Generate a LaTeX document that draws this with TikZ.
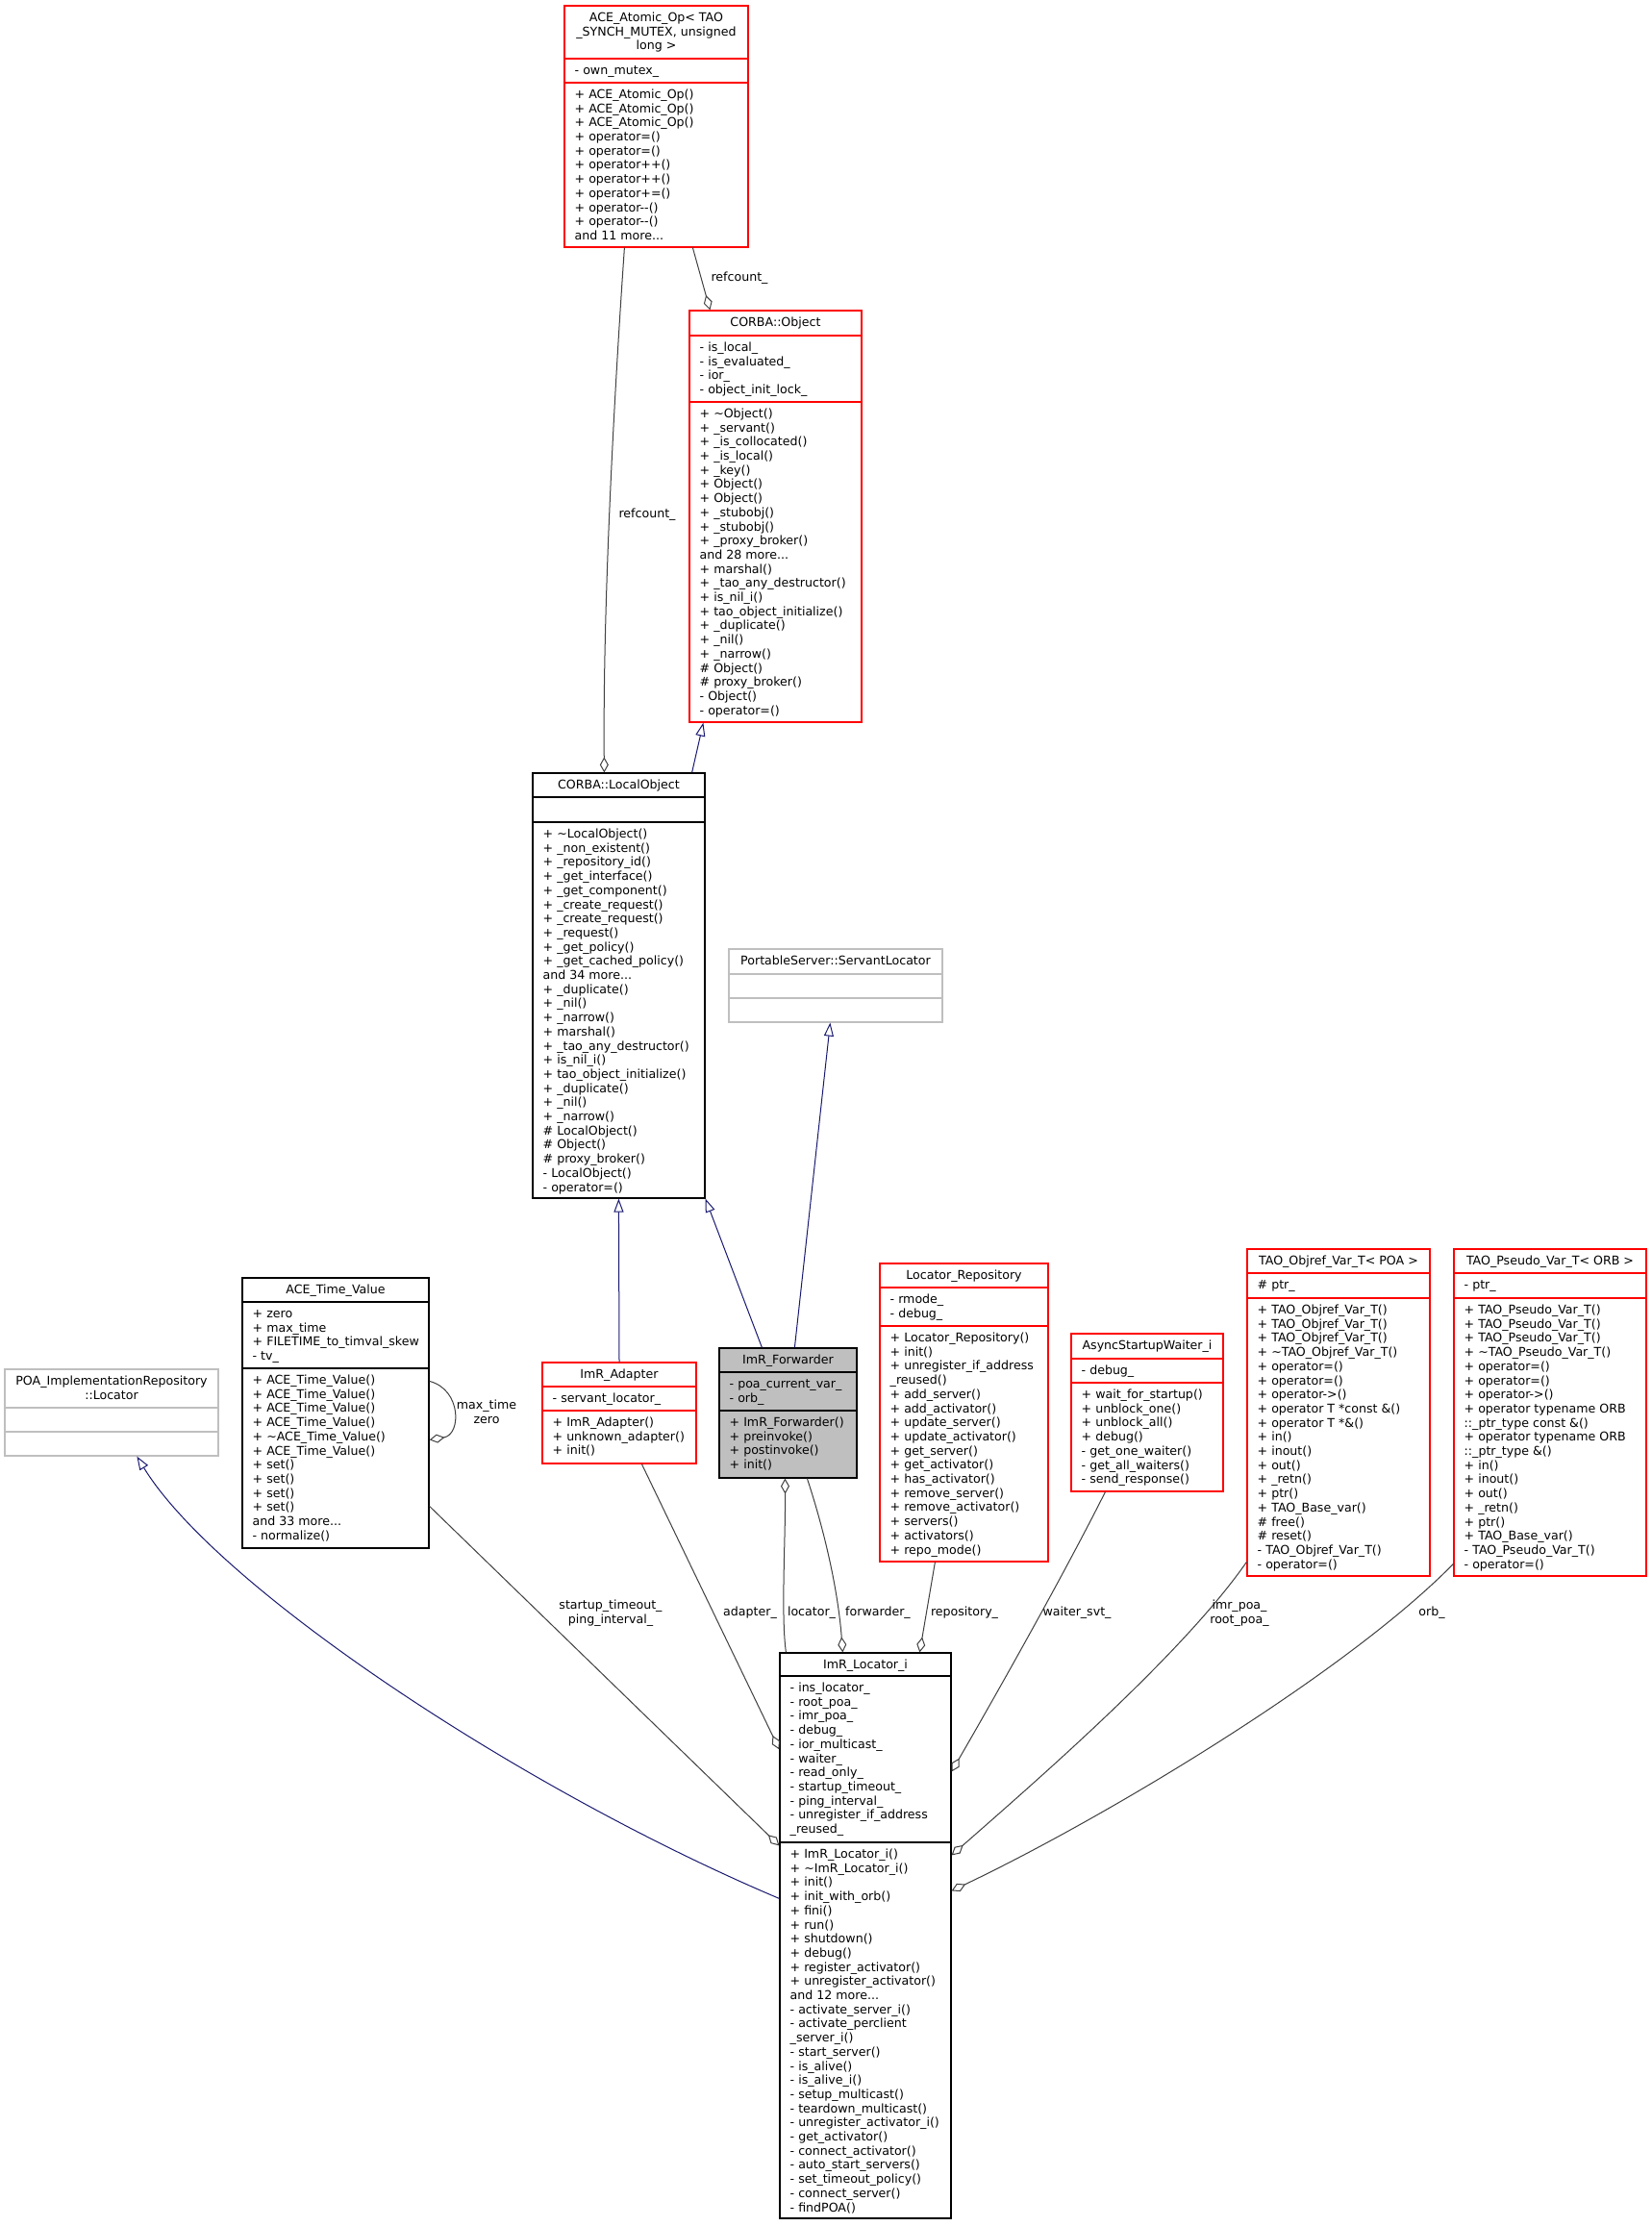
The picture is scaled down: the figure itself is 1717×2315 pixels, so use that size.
\documentclass[tikz,border=0pt]{standalone}
\usepackage{fontspec}
\setmainfont{DejaVu Sans}
\usetikzlibrary{arrows.meta,fit}
\definecolor{inhblue}{HTML}{191970}
\definecolor{usegray}{HTML}{404040}
\definecolor{boxgray}{HTML}{BFBFBF}
\definecolor{boxred}{HTML}{FF0000}
\newcommand{\umlfont}{\fontsize{12.6pt}{14.7pt}\selectfont}
\newcommand{\tld}{\textasciitilde}
% name, style, L, T, R, B, s1, s2
\newcommand{\umlbox}[8]{%
  \node[#2, fit={(#3,#4) (#5,#6)}, inner sep=0pt] (#1) {};
  \draw[#2sep] (#3,#7) -- (#5,#7);
  \draw[#2sep] (#3,#8) -- (#5,#8);
}
% L, R, T, text
\newcommand{\umltitle}[4]{%
  \node[umltxt, anchor=north, align=center] at ({(#1+#2)/2}, #3+6) {\strut #4};
}
% L, y, text
\newcommand{\umlrows}[3]{%
  \node[umltxt, anchor=north west, align=left] at (#1+10.5, #2+6) {\strut #3};
}
\tikzset{
  umltxt/.style={font=\umlfont, inner sep=0pt, text=black},
  lbl/.style={font=\umlfont, inner sep=0pt, align=center, text=black},
  redbox/.style={draw=boxred, fill=white, line width=1.2pt},
  redboxsep/.style={draw=boxred, line width=1.2pt},
  blackbox/.style={draw=black, fill=white, line width=1.2pt},
  blackboxsep/.style={draw=black, line width=1.2pt},
  graybox/.style={draw=boxgray, fill=white, line width=1.2pt},
  grayboxsep/.style={draw=boxgray, line width=1.2pt},
  fwdbox/.style={draw=black, fill=boxgray, line width=1.2pt},
  fwdboxsep/.style={draw=black, line width=1.2pt},
  inh/.style={draw=inhblue, line width=1pt, -{Triangle[open, length=14pt, width=10pt]}},
  agg/.style={draw=usegray, line width=1pt, -{Diamond[open, length=16pt, width=9pt]}},
}
\begin{document}
\begin{tikzpicture}[x=1pt, y=-1pt]
\useasboundingbox (0,0) rectangle (1717,2315);
\fill[white] (0,0) rectangle (1717,2315);

% ACE_Atomic_Op
\umlbox{atomic}{redbox}{587}{6}{778}{257}{61}{86}
\umltitle{587}{778}{6}{ACE\_Atomic\_Op< TAO\\\_SYNCH\_MUTEX, unsigned\\long >}
\umlrows{587}{61}{- own\_mutex\_}
\umlrows{587}{86}{+ ACE\_Atomic\_Op()\\+ ACE\_Atomic\_Op()\\+ ACE\_Atomic\_Op()\\+ operator=()\\+ operator=()\\+ operator++()\\+ operator++()\\+ operator+=()\\+ operator-{}-()\\+ operator-{}-()\\and 11 more...}

% CORBA::Object
\umlbox{object}{redbox}{717}{323}{896}{751}{349}{418}
\umltitle{717}{896}{323}{CORBA::Object}
\umlrows{717}{349}{- is\_local\_\\- is\_evaluated\_\\- ior\_\\- object\_init\_lock\_}
\umlrows{717}{418}{+ \tld Object()\\+ \_servant()\\+ \_is\_collocated()\\+ \_is\_local()\\+ \_key()\\+ Object()\\+ Object()\\+ \_stubobj()\\+ \_stubobj()\\+ \_proxy\_broker()\\and 28 more...\\+ marshal()\\+ \_tao\_any\_destructor()\\+ is\_nil\_i()\\+ tao\_object\_initialize()\\+ \_duplicate()\\+ \_nil()\\+ \_narrow()\\\# Object()\\\# proxy\_broker()\\- Object()\\- operator=()}

% CORBA::LocalObject
\umlbox{localobj}{blackbox}{554}{804}{733}{1246}{829}{855}
\umltitle{554}{733}{804}{CORBA::LocalObject}
\umlrows{554}{855}{+ \tld LocalObject()\\+ \_non\_existent()\\+ \_repository\_id()\\+ \_get\_interface()\\+ \_get\_component()\\+ \_create\_request()\\+ \_create\_request()\\+ \_request()\\+ \_get\_policy()\\+ \_get\_cached\_policy()\\and 34 more...\\+ \_duplicate()\\+ \_nil()\\+ \_narrow()\\+ marshal()\\+ \_tao\_any\_destructor()\\+ is\_nil\_i()\\+ tao\_object\_initialize()\\+ \_duplicate()\\+ \_nil()\\+ \_narrow()\\\# LocalObject()\\\# Object()\\\# proxy\_broker()\\- LocalObject()\\- operator=()}

% PortableServer::ServantLocator
\umlbox{servloc}{graybox}{758}{987}{980}{1063}{1013}{1038}
\umltitle{758}{980}{987}{PortableServer::ServantLocator}

% ImR_Forwarder
\umlbox{forwarder}{fwdbox}{748}{1402}{891}{1537}{1427}{1467}
\umltitle{748}{891}{1402}{ImR\_Forwarder}
\umlrows{748}{1427}{- poa\_current\_var\_\\- orb\_}
\umlrows{748}{1467}{+ ImR\_Forwarder()\\+ preinvoke()\\+ postinvoke()\\+ init()}

% ImR_Adapter
\umlbox{adapter}{redbox}{564}{1417}{724}{1522}{1442}{1467}
\umltitle{564}{724}{1417}{ImR\_Adapter}
\umlrows{564}{1442}{- servant\_locator\_}
\umlrows{564}{1467}{+ ImR\_Adapter()\\+ unknown\_adapter()\\+ init()}

% ACE_Time_Value
\umlbox{timeval}{blackbox}{252}{1329}{446}{1610}{1354}{1423}
\umltitle{252}{446}{1329}{ACE\_Time\_Value}
\umlrows{252}{1354}{+ zero\\+ max\_time\\+ FILETIME\_to\_timval\_skew\\- tv\_}
\umlrows{252}{1423}{+ ACE\_Time\_Value()\\+ ACE\_Time\_Value()\\+ ACE\_Time\_Value()\\+ ACE\_Time\_Value()\\+ \tld ACE\_Time\_Value()\\+ ACE\_Time\_Value()\\+ set()\\+ set()\\+ set()\\+ set()\\and 33 more...\\- normalize()}

% POA_ImplementationRepository::Locator
\umlbox{poaloc}{graybox}{5}{1424}{227}{1514}{1464}{1489}
\umltitle{5}{227}{1424}{POA\_ImplementationRepository\\::Locator}

% Locator_Repository
\umlbox{locrepo}{redbox}{915}{1314}{1090}{1624}{1339}{1379}
\umltitle{915}{1090}{1314}{Locator\_Repository}
\umlrows{915}{1339}{- rmode\_\\- debug\_}
\umlrows{915}{1379}{+ Locator\_Repository()\\+ init()\\+ unregister\_if\_address\\\_reused()\\+ add\_server()\\+ add\_activator()\\+ update\_server()\\+ update\_activator()\\+ get\_server()\\+ get\_activator()\\+ has\_activator()\\+ remove\_server()\\+ remove\_activator()\\+ servers()\\+ activators()\\+ repo\_mode()}

% AsyncStartupWaiter_i
\umlbox{waiter}{redbox}{1114}{1387}{1272}{1551}{1413}{1438}
\umltitle{1114}{1272}{1387}{AsyncStartupWaiter\_i}
\umlrows{1114}{1413}{- debug\_}
\umlrows{1114}{1438}{+ wait\_for\_startup()\\+ unblock\_one()\\+ unblock\_all()\\+ debug()\\- get\_one\_waiter()\\- get\_all\_waiters()\\- send\_response()}

% TAO_Objref_Var_T< POA >
\umlbox{objref}{redbox}{1297}{1299}{1487}{1639}{1324}{1350}
\umltitle{1297}{1487}{1299}{TAO\_Objref\_Var\_T< POA >}
\umlrows{1297}{1324}{\# ptr\_}
\umlrows{1297}{1350}{+ TAO\_Objref\_Var\_T()\\+ TAO\_Objref\_Var\_T()\\+ TAO\_Objref\_Var\_T()\\+ \tld TAO\_Objref\_Var\_T()\\+ operator=()\\+ operator=()\\+ operator->()\\+ operator T *const \&()\\+ operator T *\&()\\+ in()\\+ inout()\\+ out()\\+ \_retn()\\+ ptr()\\+ TAO\_Base\_var()\\\# free()\\\# reset()\\- TAO\_Objref\_Var\_T()\\- operator=()}

% TAO_Pseudo_Var_T< ORB >
\umlbox{pseudo}{redbox}{1512}{1299}{1712}{1639}{1324}{1350}
\umltitle{1512}{1712}{1299}{TAO\_Pseudo\_Var\_T< ORB >}
\umlrows{1512}{1324}{- ptr\_}
\umlrows{1512}{1350}{+ TAO\_Pseudo\_Var\_T()\\+ TAO\_Pseudo\_Var\_T()\\+ TAO\_Pseudo\_Var\_T()\\+ \tld TAO\_Pseudo\_Var\_T()\\+ operator=()\\+ operator=()\\+ operator->()\\+ operator typename ORB\\::\_ptr\_type const \&()\\+ operator typename ORB\\::\_ptr\_type \&()\\+ in()\\+ inout()\\+ out()\\+ \_retn()\\+ ptr()\\+ TAO\_Base\_var()\\- TAO\_Pseudo\_Var\_T()\\- operator=()}

% ImR_Locator_i
\umlbox{locator}{blackbox}{811}{1719}{989}{2307}{1743}{1916}
\umltitle{811}{989}{1719}{ImR\_Locator\_i}
\umlrows{811}{1743}{- ins\_locator\_\\- root\_poa\_\\- imr\_poa\_\\- debug\_\\- ior\_multicast\_\\- waiter\_\\- read\_only\_\\- startup\_timeout\_\\- ping\_interval\_\\- unregister\_if\_address\\\_reused\_}
\umlrows{811}{1916}{+ ImR\_Locator\_i()\\+ \tld ImR\_Locator\_i()\\+ init()\\+ init\_with\_orb()\\+ fini()\\+ run()\\+ shutdown()\\+ debug()\\+ register\_activator()\\+ unregister\_activator()\\and 12 more...\\- activate\_server\_i()\\- activate\_perclient\\\_server\_i()\\- start\_server()\\- is\_alive()\\- is\_alive\_i()\\- setup\_multicast()\\- teardown\_multicast()\\- unregister\_activator\_i()\\- get\_activator()\\- connect\_activator()\\- auto\_start\_servers()\\- set\_timeout\_policy()\\- connect\_server()\\- findPOA()}

% ---------- connectors ----------
% refcount_ (Atomic -> LocalObject)
\draw[agg] ([xshift=63pt]atomic.south west) .. controls (636,450) and (627,650) .. ([xshift=75pt]localobj.north west);
\node[lbl] (lref1) at (673,535) {refcount\_};
% refcount_ (Atomic -> Object)
\draw[agg] ([xshift=134pt]atomic.south west) -- ([xshift=22pt]object.north west);
\node[lbl] (lref2) at (769,289) {refcount\_};
% inheritance LocalObject -> Object
\draw[inh] ([xshift=-14pt]localobj.north east) -- ([xshift=15pt]object.south west);
% inheritance ImR_Adapter -> LocalObject
\draw[inh] (adapter.north) -- ([xshift=90pt]localobj.south west);
% inheritance ImR_Forwarder -> LocalObject
\draw[inh] ([xshift=45pt]forwarder.north west) -- (localobj.south east);
% inheritance ImR_Forwarder -> ServantLocator
\draw[inh] ([xshift=79pt]forwarder.north west) -- ([xshift=106pt]servloc.south west);
% inheritance ImR_Locator_i -> POA Locator
\draw[inh] ([yshift=-256pt]locator.north west) .. controls (540,1860) and (225,1650) .. ([xshift=138pt]poaloc.south west);
% ACE_Time_Value self loop
\draw[agg] ([yshift=-108pt]timeval.north east) .. controls (480,1445) and (480,1492) .. ([yshift=-169pt]timeval.north east);
\node[lbl] (lmax) at (506,1468) {max\_time\\zero};
% startup_timeout_ / ping_interval_
\draw[agg] ([yshift=-238pt]timeval.north east) -- ([yshift=-201pt]locator.north west);
\node[lbl] (lstart) at (635,1678) {startup\_timeout\_\\ping\_interval\_};
% adapter_
\draw[agg] ([xshift=104pt]adapter.south west) -- ([yshift=-101pt]locator.north west);
\node[lbl] (ladapter) at (780,1677) {adapter\_};
% locator_
\draw[agg] ([xshift=7pt]locator.north west) .. controls (812,1680) and (817,1600) .. ([xshift=69pt]forwarder.south west);
\node[lbl] (llocator) at (844,1677) {locator\_};
% forwarder_
\draw[agg] ([xshift=92pt]forwarder.south west) .. controls (860,1600) and (872,1660) .. ([xshift=66pt]locator.north west);
\node[lbl] (lforwarder) at (913,1677) {forwarder\_};
% repository_
\draw[agg] ([xshift=58pt]locrepo.south west) -- ([xshift=146pt]locator.north west);
\node[lbl] (lrepo) at (1003,1677) {repository\_};
% waiter_svt_
\draw[agg] ([xshift=36pt]waiter.south west) .. controls (1100,1650) and (1020,1790) .. ([yshift=-124pt]locator.north east);
\node[lbl] (lwaiter) at (1120,1677) {waiter\_svt\_};
% imr_poa_ / root_poa_
\draw[agg] ([yshift=-326pt]objref.north west) .. controls (1230,1720) and (1080,1850) .. ([yshift=-211pt]locator.north east);
\node[lbl] (lpoa) at (1289,1678) {imr\_poa\_\\root\_poa\_};
% orb_
\draw[agg] ([yshift=-328pt]pseudo.north west) .. controls (1400,1740) and (1150,1890) .. ([yshift=-248pt]locator.north east);
\node[lbl] (lorb) at (1489,1677) {orb\_};
\end{tikzpicture}
\end{document}
